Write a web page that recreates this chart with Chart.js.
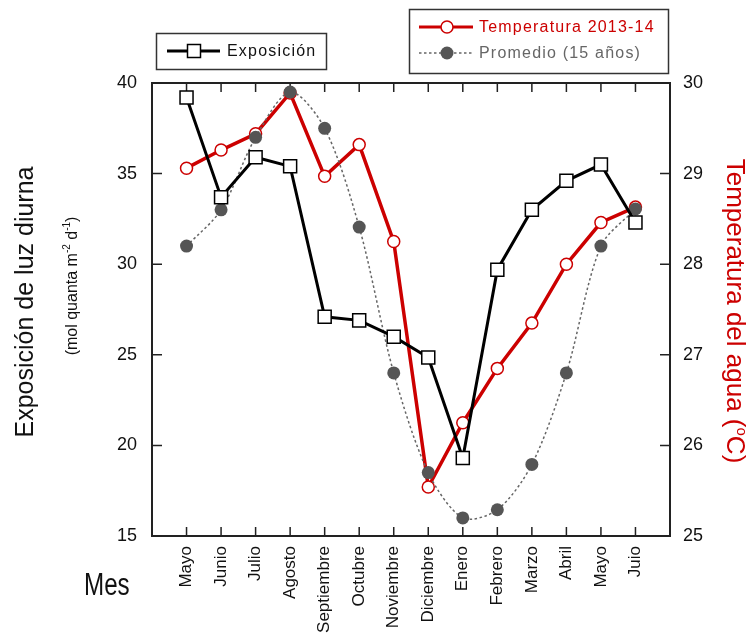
<!DOCTYPE html>
<html lang="es">
<head>
  <meta charset="UTF-8" />
  <title>Exposición de luz diurna y temperatura del agua</title>
  <script src="https://cdn.jsdelivr.net/npm/chart.js"></script>
  <style>
    body { margin: 0; background: #fff; }
    canvas { display: block; }
  </style>
</head>
<body>
  <canvas id="chart" width="748" height="633"></canvas>

  <script>
    // datos
    const months = ["Mayo", "Junio", "Julio", "Agosto", "Septiembre", "Octubre", "Noviembre",
                    "Diciembre", "Enero", "Febrero", "Marzo", "Abril", "Mayo", "Juio"];
    const exposicion = [39.2, 33.7, 35.9, 35.4, 27.1, 26.9, 26.0, 24.85, 19.3, 29.7, 33.0, 34.6, 35.5, 32.3];
    const temperatura = [29.06, 29.26, 29.44, 29.89, 28.97, 29.32, 28.25, 25.54, 26.25, 26.85, 27.35, 28.0, 28.46, 28.63];
    const promedio = [28.2, 28.6, 29.4, 29.9, 29.5, 28.41, 26.8, 25.7, 25.2, 25.29, 25.79, 26.8, 28.2, 28.61];
    const expTicks = [15, 20, 25, 30, 35, 40];
    const tempTicks = [25, 26, 27, 28, 29, 30];

    const FONT = '"Liberation Sans", Arial, sans-serif';
    const RED = '#cc0000';
    Chart.defaults.font.family = FONT;
    Chart.defaults.color = '#111';

    const toPoints = arr => arr.map((v, i) => ({ x: i + 1, y: v }));

    // draws a row of text pieces (for superscripts) centred on 0
    function richText(ctx, parts) {
      let w = 0;
      parts.forEach(p => { ctx.font = p.size + 'px ' + FONT; w += ctx.measureText(p.t).width; });
      let x = -w / 2;
      parts.forEach(p => {
        ctx.font = p.size + 'px ' + FONT;
        ctx.fillText(p.t, x, p.dy || 0);
        x += ctx.measureText(p.t).width;
      });
    }

    const frame = {
      id: 'frame',
      beforeDatasetsDraw(chart) {
        const { ctx, chartArea: a, scales } = chart;
        ctx.save();
        ctx.strokeStyle = '#222';
        ctx.lineWidth = 2;
        ctx.strokeRect(a.left, a.top, a.right - a.left, a.bottom - a.top);
        ctx.lineWidth = 1.5;
        ctx.beginPath();
        months.forEach((m, i) => {
          const x = scales.x.getPixelForValue(i + 1);
          ctx.moveTo(x, a.bottom); ctx.lineTo(x, a.bottom - 9);
          ctx.moveTo(x, a.top); ctx.lineTo(x, a.top + 9);
        });
        expTicks.forEach(v => {
          const y = scales.y.getPixelForValue(v);
          ctx.moveTo(a.left, y); ctx.lineTo(a.left + 10, y);
        });
        tempTicks.forEach(v => {
          const y = scales.y1.getPixelForValue(v);
          ctx.moveTo(a.right, y); ctx.lineTo(a.right - 10, y);
        });
        ctx.stroke();
        ctx.restore();
      },
      afterDraw(chart) {
        const ctx = chart.ctx;
        ctx.save();
        ctx.textBaseline = 'alphabetic';

        // titulo eje izquierdo
        ctx.fillStyle = '#111';
        ctx.save();
        ctx.translate(33, 302);
        ctx.rotate(-Math.PI / 2);
        ctx.textAlign = 'center';
        ctx.font = '25px ' + FONT;
        ctx.fillText('Exposición de luz diurna', 0, 0);
        ctx.restore();

        ctx.save();
        ctx.translate(77, 286);
        ctx.rotate(-Math.PI / 2);
        ctx.textAlign = 'left';
        richText(ctx, [
          { t: '(mol quanta m', size: 16 },
          { t: '-2', size: 10, dy: -7 },
          { t: ' d', size: 16 },
          { t: '-1', size: 10, dy: -7 },
          { t: ')', size: 16 }
        ]);
        ctx.restore();

        // titulo eje derecho
        ctx.fillStyle = RED;
        ctx.save();
        ctx.translate(727, 311);
        ctx.rotate(Math.PI / 2);
        ctx.textAlign = 'left';
        richText(ctx, [
          { t: 'Temperatura del agua (', size: 26 },
          { t: 'o', size: 15, dy: -10 },
          { t: 'C)', size: 26 }
        ]);
        ctx.restore();

        // Mes
        ctx.fillStyle = '#111';
        ctx.save();
        ctx.translate(84, 595);
        ctx.scale(0.78, 1);
        ctx.textAlign = 'left';
        ctx.font = '31px ' + FONT;
        ctx.fillText('Mes', 0, 0);
        ctx.restore();

        // leyendas
        ctx.letterSpacing = '1.2px';
        ctx.font = '16px ' + FONT;
        ctx.textAlign = 'left';
        ctx.textBaseline = 'middle';
        ctx.strokeStyle = '#333';
        ctx.lineWidth = 1.5;
        ctx.strokeRect(156.5, 33.5, 170, 36);
        ctx.strokeRect(409.5, 9.5, 259, 64);

        ctx.strokeStyle = '#000';
        ctx.lineWidth = 3;
        ctx.beginPath(); ctx.moveTo(167, 51); ctx.lineTo(220, 51); ctx.stroke();
        ctx.fillStyle = '#fff';
        ctx.lineWidth = 1.5;
        ctx.fillRect(187.5, 44.5, 13, 13);
        ctx.strokeRect(187.5, 44.5, 13, 13);
        ctx.fillStyle = '#111';
        ctx.fillText('Exposición', 227, 52);

        ctx.strokeStyle = RED;
        ctx.lineWidth = 3;
        ctx.beginPath(); ctx.moveTo(419, 27); ctx.lineTo(473, 27); ctx.stroke();
        ctx.lineWidth = 1.5;
        ctx.fillStyle = '#fff';
        ctx.beginPath(); ctx.arc(447, 27, 6, 0, Math.PI * 2); ctx.fill(); ctx.stroke();
        ctx.fillStyle = RED;
        ctx.fillText('Temperatura 2013-14', 479, 28);

        ctx.strokeStyle = '#666';
        ctx.setLineDash([2.5, 2.5]);
        ctx.beginPath(); ctx.moveTo(419, 53); ctx.lineTo(473, 53); ctx.stroke();
        ctx.setLineDash([]);
        ctx.fillStyle = '#555';
        ctx.beginPath(); ctx.arc(447, 53, 6.5, 0, Math.PI * 2); ctx.fill();
        ctx.fillStyle = '#666';
        ctx.fillText('Promedio (15 años)', 479, 54);

        ctx.restore();
      }
    };

    new Chart(document.getElementById('chart'), {
      type: 'line',
      data: {
        datasets: [
          {
            label: 'Exposición',
            data: toPoints(exposicion),
            yAxisID: 'y',
            borderColor: '#000',
            borderWidth: 3,
            pointStyle: 'rect',
            pointRadius: 9.2,
            pointBackgroundColor: '#fff',
            pointBorderColor: '#000',
            pointBorderWidth: 1.5,
            clip: false,
            order: 1
          },
          {
            label: 'Promedio (15 años)',
            data: toPoints(promedio),
            yAxisID: 'y1',
            borderColor: '#666',
            borderWidth: 1.5,
            borderDash: [2.5, 2.5],
            tension: 0.3,
            pointRadius: 6.5,
            pointBackgroundColor: '#555',
            pointBorderColor: '#555',
            pointBorderWidth: 0,
            clip: false,
            order: 2
          },
          {
            label: 'Temperatura 2013-14',
            data: toPoints(temperatura),
            yAxisID: 'y1',
            borderColor: RED,
            borderWidth: 3.5,
            pointRadius: 6,
            pointBackgroundColor: '#fff',
            pointBorderColor: RED,
            pointBorderWidth: 1.5,
            clip: false,
            order: 3
          }
        ]
      },
      options: {
        responsive: false,
        animation: false,
        layout: { padding: { top: 83 } },
        plugins: { legend: { display: false }, tooltip: { enabled: false } },
        scales: {
          x: {
            type: 'linear',
            position: 'bottom',
            min: 0,
            max: 15,
            afterBuildTicks: scale => { scale.ticks = months.map((m, i) => ({ value: i + 1 })); },
            afterFit: scale => { scale.height = 97; },
            grid: { display: false, drawTicks: false },
            border: { display: false },
            ticks: {
              autoSkip: false,
              minRotation: 90,
              maxRotation: 90,
              padding: 10,
              font: { size: 17 },
              callback: v => months[v - 1]
            }
          },
          y: {
            position: 'left',
            min: 15,
            max: 40,
            afterFit: scale => { scale.width = 152; },
            grid: { display: false, drawTicks: false },
            border: { display: false },
            ticks: { stepSize: 5, padding: 15, font: { size: 18 } }
          },
          y1: {
            position: 'right',
            min: 25,
            max: 30,
            afterFit: scale => { scale.width = 78; },
            grid: { display: false, drawTicks: false },
            border: { display: false },
            ticks: { stepSize: 1, padding: 13, font: { size: 18 } }
          }
        }
      },
      plugins: [frame]
    });
  </script>
</body>
</html>
